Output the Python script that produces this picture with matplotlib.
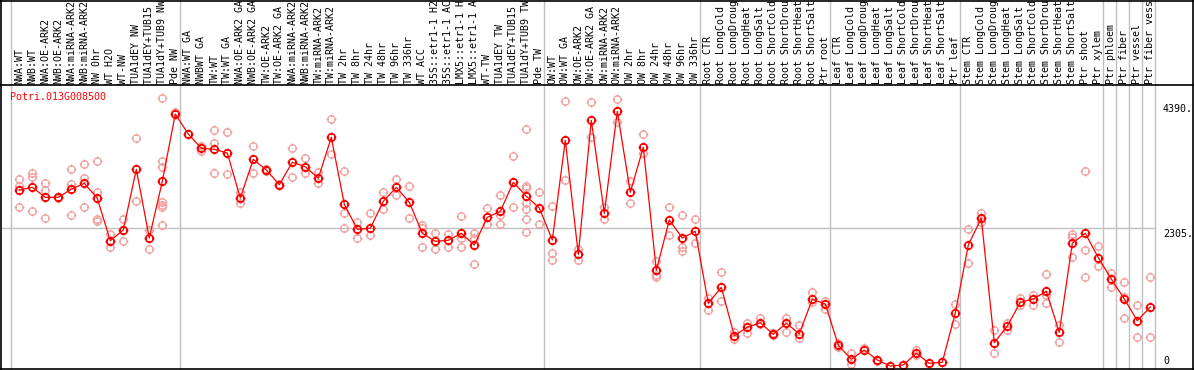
import matplotlib
matplotlib.use("Agg")
import matplotlib.pyplot as plt
import numpy as np
from matplotlib.path import Path
from matplotlib.transforms import blended_transform_factory
from matplotlib.lines import Line2D

title = "Potri.013G008500"

labels = [
    "NWA:WT", "NWB:WT", "NWA:OE-ARK2", "NWB:OE-ARK2", "NWA:miRNA-ARK2", "NWB:miRNA-ARK2",
    "NW 0hr", "WT H2O", "WT-NW", "TUA1dEY NW", "TUA1dEY+TUB15 NW", "TUA1dY+TUB9 NW", "Pde NW",
    "NWA:WT GA", "NWBWT GA", "TW:WT", "TW:WT GA", "NWA:OE-ARK2 GA", "NWB:OE-ARK2 GA",
    "TW:OE-ARK2", "TW:OE-ARK2 GA", "NWA:miRNA-ARK2 GA", "NWB:miRNA-ARK2 GA", "TW:miRNA-ARK2",
    "TW:miRNA-ARK2 GA", "TW 2hr", "TW 8hr", "TW 24hr", "TW 48hr", "TW 96hr", "TW 336hr",
    "WT ACC", "35S::etr1-1 H2O", "35S::etr1-1 ACC", "LMX5::etr1-1 H2O", "LMX5::etr1-1 ACC",
    "WT-TW", "TUA1dEY TW", "TUA1dEY+TUB15 TW", "TUA1dY+TUB9 TW", "Pde TW",
    "OW:WT", "OW:WT GA", "OW:OE-ARK2", "OW:OE-ARK2 GA", "OW:miRNA-ARK2", "OW:miRNA-ARK2 GA",
    "OW 2hr", "OW 8hr", "OW 24hr", "OW 48hr", "OW 96hr", "OW 336hr",
    "Root CTR", "Root LongCold", "Root LongDrought", "Root LongHeat", "Root LongSalt",
    "Root ShortCold", "Root ShortDrought", "Root ShortHeat", "Root ShortSalt", "Ptr root",
    "Leaf CTR", "Leaf LongCold", "Leaf LongDrought", "Leaf LongHeat", "Leaf LongSalt",
    "Leaf ShortCold", "Leaf ShortDrought", "Leaf ShortHeat", "Leaf ShortSalt", "Ptr leaf",
    "Stem CTR", "Stem LongCold", "Stem LongDrought", "Stem LongHeat", "Stem LongSalt",
    "Stem ShortCold", "Stem ShortDrought", "Stem ShortHeat", "Stem ShortSalt", "Ptr shoot",
    "Ptr xylem", "Ptr phloem", "Ptr fiber", "Ptr vessel", "Ptr fiber vessel",
]

means = [
    2939, 2984, 2817, 2817, 2951, 3051, 2801, 2093, 2271, 3285, 2138, 3084, 4208,
    3874, 3636, 3619, 3557, 2806, 3452, 3273, 3028, 3402, 3328, 3135, 3819, 2700,
    2283, 2300, 2750, 2984, 2734, 2216, 2082, 2099, 2216, 2021, 2483, 2583, 3068,
    2834, 2639,
    2104, 3769, 1865, 4103, 2550, 4253, 2901, 3652, 1598, 2438, 2138, 2249,
    1047, 1314, 506, 646, 723, 529, 713, 539, 1114, 1035,
    346, 112, 267, 100, 0, 17, 212, 45, 62, 885,
    2021, 2467, 389, 668, 1064, 1119, 1247, 563, 2049, 2216,
    1809, 1453, 1119, 757, 985,
]

replicates = [
    [3118, 3006, 2650], [3228, 3151, 2594], [3051, 2939, 2472], [2800, 2830],
    [3285, 3039, 2517], [3373, 3140, 2650], [3424, 2906, 2450, 2427], [2204, 1992],
    [2450, 2082], [3803, 2750], [2271, 1949],
    [4471, 3424, 3318, 2739, 2694, 2650, 2350], [4247],
    [3880], [3674, 3596], [3936, 3729, 3218], [3903, 3206], [2906, 2717],
    [3669, 3228], [3290, 3260], [3040, 3020], [3636, 3161], [3469, 3218],
    [3245, 3051], [4120, 3540], [3251, 2550, 2300], [2405, 2133], [2550, 2183],
    [2901, 2617], [3123, 2851], [3001, 2472], [2355, 2300, 1982], [2216, 1959],
    [2199, 1982], [2505, 2133, 1982], [2216, 2143, 1698], [2634, 2371],
    [2851, 2522, 2366], [3507, 2650],
    [3953, 3011, 2968, 2717, 2617, 2450, 2233], [2901, 2366],
    [2667, 1882, 1765], [4420, 3101], [1949, 1765], [4404, 3819], [2650, 2460],
    [4459, 4080], [3095, 2717], [3869, 3552], [1754, 1515, 1481], [2650, 2183],
    [2517, 1992, 1915], [2450, 2049],
    [1131, 940], [1565, 1091], [573, 446], [723, 556], [802, 700], [556, 510],
    [802, 568], [680, 463], [1236, 1064], [1091, 957],
    [379, 312], [212, 33], [296], [100, 90], [0], [17], [267, 184], [45], [62],
    [1035, 696],
    [2283, 1720], [2560, 2410], [601, 212], [713, 601], [1131, 1019],
    [1181, 1014], [1536, 1181, 1047], [685, 396], [2204, 2149, 1815],
    [3257, 1932, 1481],
    [2004, 1670], [1553, 1319], [1403, 1157, 802], [1019, 484], [1486, 484],
]

group_starts = [0, 13, 41, 53, 63, 73, 84, 85, 86, 87, 88]
ytick_vals = [4390, 2305, 0]
ytick_text = ["4390.", "2305.", "0"]

W, H = 1194, 370
fig = plt.figure(figsize=(W / 100, H / 100), dpi=100)
fig.patch.set_facecolor("white")

# pixel geometry
x0_px, dx_px = 19.3, 13.0
y0_px, scale = 366.0, 16.70  # value per pixel
ax_left_px, ax_right_px = 1.0, 1156.0
ax_top_px, ax_bot_px = 85.0, 369.0

ax = fig.add_axes([ax_left_px / W, 1 - ax_bot_px / H,
                   (ax_right_px - ax_left_px) / W, (ax_bot_px - ax_top_px) / H])
ax.set_xlim((ax_left_px - x0_px) / dx_px, (ax_right_px - x0_px) / dx_px)
ax.set_ylim((y0_px - ax_bot_px) * scale, (y0_px - ax_top_px) * scale)
ax.set_xticks([])
ax.set_yticks([])
for s in ax.spines.values():
    s.set_visible(False)

n = len(means)
xs = np.arange(n)

# marker: circle with small ticks
circ = Path.unit_circle()
t_in, t_out = 0.7, 1.3
tick_verts = []
tick_codes = []
for (cx, cy) in [(0, 1), (0, -1), (1, 0), (-1, 0)]:
    tick_verts += [(cx * t_in, cy * t_in), (cx * t_out, cy * t_out)]
    tick_codes += [Path.MOVETO, Path.LINETO]
ticks = Path(tick_verts, tick_codes)
mk = Path.make_compound_path(circ, ticks)

grid_c = "#c0c0c0"
trans_xfig = blended_transform_factory(ax.transData, fig.transFigure)

# vertical group lines (full height)
for g in group_starts:
    xg = g - 8.0 / dx_px
    ax.plot([xg, xg], [0, 1], color=grid_c, lw=1.0, transform=trans_xfig,
            clip_on=False, zorder=1)

# horizontal grid line at middle tick
ax.axhline(2305, color=grid_c, lw=1.0, zorder=1)

# replicates
rx, ry = [], []
for i, reps in enumerate(replicates):
    for v in reps:
        rx.append(i)
        ry.append(v)
ax.plot(rx, ry, linestyle="none", marker=mk, markersize=7, markerfacecolor="none",
        markeredgecolor="#f0a0a0", markeredgewidth=0.9, zorder=2, clip_on=False)

# mean line and markers
ax.plot(xs, means, color="#ff0000", lw=0.9, zorder=3, clip_on=False)
ax.plot(xs, means, linestyle="none", marker=mk, markersize=7, markerfacecolor="none",
        markeredgecolor="#ff0000", markeredgewidth=1.2, zorder=4, clip_on=False)

# sample labels (truncated to 14 characters)
mono = "DejaVu Sans Mono"
for i, lab in enumerate(labels):
    ax.text(i, 1 - 84.0 / H, lab[:14], rotation=90, ha="center", va="bottom",
            fontsize=7.2, family=mono, color="black", transform=trans_xfig,
            clip_on=False)

# borders
def hline(ypx, x1, x2, c="black", lw=1.2):
    fig.add_artist(Line2D([x1 / W, x2 / W], [1 - ypx / H, 1 - ypx / H],
                          color=c, lw=lw, transform=fig.transFigure))

def vline(xpx, y1, y2, c="black", lw=1.2):
    fig.add_artist(Line2D([xpx / W, xpx / W], [1 - y1 / H, 1 - y2 / H],
                          color=c, lw=lw, transform=fig.transFigure))

hline(0.5, 0, W)
hline(85, 0, W)
hline(369.3, 0, W)
vline(1.0, 0, H)
vline(1192.8, 0, H)

# title
fig.text(10 / W, 1 - 97.5 / H, title, color="#ff0000", fontsize=7.2, family=mono,
         ha="left", va="center")

# right-hand value labels
for v, t in zip(ytick_vals, ytick_text):
    ypx = y0_px - v / scale
    if v == 0:
        fig.text(1163 / W, 1 - ypx / H, t, fontsize=7.2, family=mono,
                 ha="left", va="bottom")
    else:
        fig.text(1163 / W, 1 - (ypx + 1) / H, t, fontsize=7.2, family=mono,
                 ha="left", va="top")

fig.savefig("out.png", dpi=100, facecolor="white")
